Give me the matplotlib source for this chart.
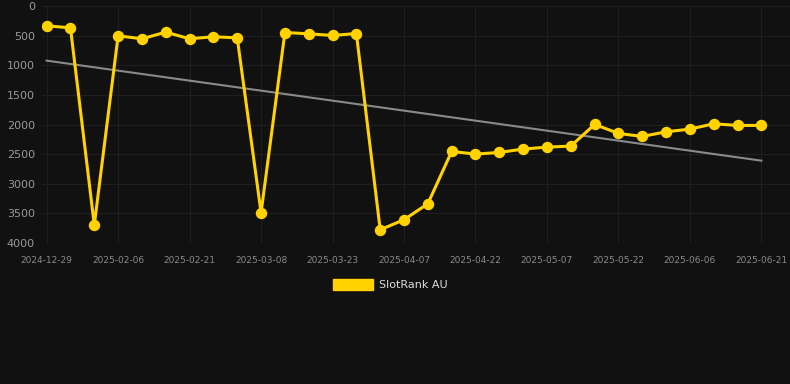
import numpy as np
import matplotlib
matplotlib.use("Agg")
import matplotlib.pyplot as plt

# rank per 5-day step (lower is better)
rank = [332, 366, 3696, 501, 551, 439, 551, 517, 535, 3488,
        445, 467, 495, 462, 3775, 3606, 3336, 2453, 2498, 2470,
        2413, 2380, 2363, 1997, 2149, 2200, 2121, 2076, 1986, 2014, 2014]
tick_labels = ['2024-12-29', '2025-02-06', '2025-02-21', '2025-03-08', '2025-03-23',
               '2025-04-07', '2025-04-22', '2025-05-07', '2025-05-22', '2025-06-06',
               '2025-06-21']
series_name = 'SlotRank AU'

x = np.arange(len(rank))
bg = '#111111'

fig = plt.figure(figsize=(7.9, 3.84), dpi=100, facecolor=bg)
ax = fig.add_axes([0.053, 0.367, 0.947, 0.617], facecolor=bg)

# linear trend
k, b = np.polyfit(x, rank, 1)
ax.plot(x, k * x + b, color='#8a8a8a', lw=1.5, zorder=2)

ax.plot(x, rank, color='#FFD200', lw=2.2, marker='o', ms=7.2,
        solid_joinstyle='miter', zorder=3)

ax.set_ylim(4000, 0)
ax.set_xlim(-0.2, 31.2)
ax.set_yticks(range(0, 4001, 500))
ax.set_xticks(x[::3])
ax.set_xticklabels(tick_labels)

ax.grid(True, color='#1f1f1f', lw=0.8)
ax.set_axisbelow(True)
for s in ax.spines.values():
    s.set_visible(False)
ax.tick_params(axis='y', colors='#9a9a9a', labelsize=8, length=0, pad=5)
ax.tick_params(axis='x', colors='#8a8a8a', labelsize=6.5, length=0, pad=9)

# legend
fig.patches.append(plt.Rectangle((333 / 790, 1 - 290 / 384), 40 / 790, 11 / 384,
                                 transform=fig.transFigure, color='#FFD200'))
fig.text(379 / 790, 1 - 285 / 384, series_name, color='#dddddd', fontsize=8,
         va='center', ha='left')

fig.savefig('out.png', dpi=100, facecolor=bg)
